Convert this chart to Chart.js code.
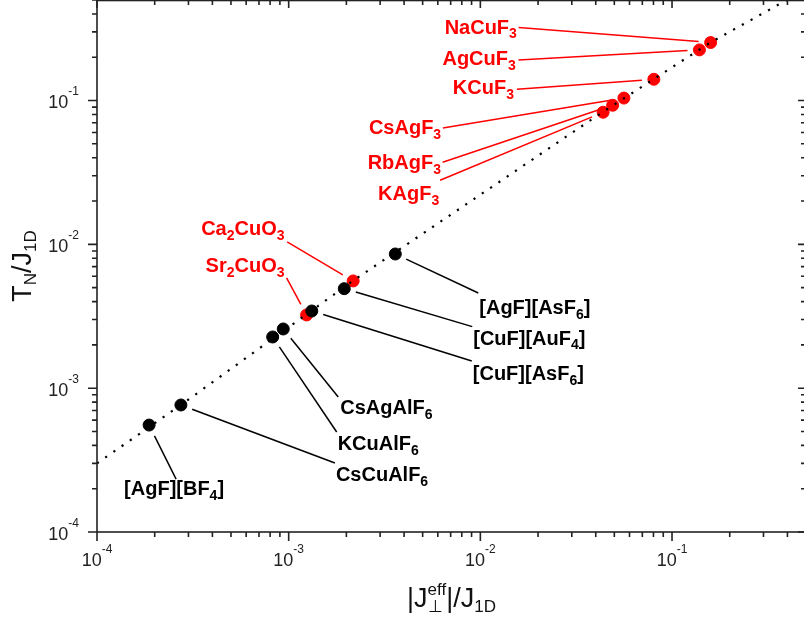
<!DOCTYPE html>
<html>
<head>
<meta charset="utf-8">
<script src="https://cdn.jsdelivr.net/npm/chart.js@4.4.1/dist/chart.umd.min.js"></script>
<style>
  html, body { margin: 0; padding: 0; background: #fff; overflow: hidden; }
  #wrap { width: 812px; height: 625px; }
</style>
</head>
<body>
<div id="wrap"><canvas id="chart" width="812" height="625"></canvas></div>
<script>
'use strict'

/* global Chart */

// red: perovskites and chain cuprates
const redNames = ['NaCuF_3', 'AgCuF_3', 'KCuF_3', 'CsAgF_3', 'RbAgF_3', 'KAgF_3', 'Ca_2CuO_3', 'Sr_2CuO_3']
const redJperp = [0.159, 0.139, 0.0804, 0.0561, 0.049, 0.0437, 0.00217, 0.00124]
const redTN = [0.253, 0.225, 0.1405, 0.104, 0.0927, 0.0829, 0.00557, 0.00323]

// black: fluoroargentates / fluorocuprates
const blackNames = ['[AgF][AsF_6]', '[CuF][AuF_4]', '[CuF][AsF_6]', 'CsAgAlF_6', 'KCuAlF_6', 'CsCuAlF_6', '[AgF][BF_4]']
const blackJperp = [0.0036, 0.00195, 0.00132, 0.000937, 0.000825, 0.000274, 0.000187]
const blackTN = [0.00857, 0.00492, 0.00344, 0.00258, 0.00227, 0.000764, 0.000554]

// dotted theory curve
const curveJperp = [0.0001, 0.000274, 0.00216, 0.0436, 0.159, 0.397, 0.5]
const curveTN = [0.0003, 0.000764, 0.00557, 0.0834, 0.2535, 0.5, 0.6]

const tickExps = [-4, -3, -2, -1]

// label layout, px from the point: [text left, text middle, leader x, leader y]
const redLabelPos = [
  [-266, -16, -192, -15],
  [-257, 8, -181, 10],
  [-201, 8, -137, 10],
  [-255, 29, -181, 30],
  [-245, 57, -170, 57],
  [-225, 81, -163, 68],
  [-152, -53, -66, -39],
  [-101, -50, -20, -37]
]
const blackLabelPos = [
  [84, 53, 83, 39],
  [129, 49, 128, 38],
  [161, 62, 160, 50],
  [57, 78, 55, 68],
  [65, 106, 64, 95],
  [155, 69, 154, 58],
  [-25, 63, 27, 54]
]

const FONT = '"Liberation Sans", Arial, sans-serif'
const RED = '#ff0000'
const AXIS = '#222'

function fontOf (r) {
  return (r.bold ? 'bold ' : '') + r.size + 'px ' + FONT
}

function drawRuns (ctx, runs, x, y, align) {
  let pos = 0
  let held = 0
  const placed = []
  for (const r of runs) {
    ctx.font = fontOf(r)
    const w = ctx.measureText(r.t).width
    placed.push(pos)
    if (r.hold) {
      held = w
    } else {
      pos += Math.max(w, held)
      held = 0
    }
  }
  const x0 = align === 'center' ? x - pos / 2 : (align === 'right' ? x - pos : x)
  ctx.textAlign = 'left'
  ctx.textBaseline = 'alphabetic'
  runs.forEach((r, i) => {
    ctx.font = fontOf(r)
    ctx.fillText(r.t, x0 + placed[i], y + (r.dy || 0))
  })
}

function labelRuns (name) {
  const runs = []
  name.split(/(_\d)/).forEach(part => {
    if (!part) return
    if (part[0] === '_') runs.push({ t: part.slice(1), size: 14, bold: true, dy: 4.5 })
    else runs.push({ t: part, size: 20, bold: true })
  })
  return runs
}

function powRuns (e) {
  return [{ t: '10', size: 18 }, { t: String(e), size: 12, dy: -13 }]
}

function drawLabels (chart, names, xs, ys, layout, color) {
  const { ctx, scales: { x, y } } = chart
  ctx.save()
  ctx.strokeStyle = color
  ctx.fillStyle = color
  ctx.lineWidth = 1.5
  names.forEach((name, i) => {
    const px = x.getPixelForValue(xs[i])
    const py = y.getPixelForValue(ys[i])
    const [tx, ty, lx, ly] = layout[i]
    const sx = px + lx
    const sy = py + ly
    const d = Math.hypot(sx - px, sy - py)
    const gap = 12
    ctx.beginPath()
    ctx.moveTo(sx, sy)
    ctx.lineTo(px + (sx - px) * gap / d, py + (sy - py) * gap / d)
    ctx.stroke()
    drawRuns(ctx, labelRuns(name), px + tx, py + ty + 7.2, 'left')
  })
  ctx.restore()
}

function drawAxes (chart) {
  const { ctx, chartArea: a, scales: { x, y } } = chart
  ctx.save()
  ctx.strokeStyle = AXIS
  ctx.fillStyle = AXIS
  ctx.lineWidth = 1.6
  ctx.strokeRect(a.left, a.top + 0.5, a.right - a.left, a.bottom - a.top - 0.5)

  ctx.beginPath()
  tickExps.forEach(e => {
    for (let m = 1; m <= 9; m++) {
      const v = m * Math.pow(10, e)
      const major = m === 1
      if (v <= x.max) {
        const px = x.getPixelForValue(v)
        ctx.moveTo(px, a.bottom)
        ctx.lineTo(px, a.bottom + (major ? 9 : 5))
        ctx.moveTo(px, a.top)
        ctx.lineTo(px, a.top + (major ? 8 : 5))
      }
      if (v <= y.max) {
        const py = y.getPixelForValue(v)
        ctx.moveTo(a.left, py)
        ctx.lineTo(a.left - (major ? 9 : 5), py)
        ctx.moveTo(a.right, py)
        ctx.lineTo(a.right - (major ? 8 : 5), py)
      }
    }
  })
  ctx.stroke()

  tickExps.forEach(e => {
    const v = Math.pow(10, e)
    drawRuns(ctx, powRuns(e), x.getPixelForValue(v), a.bottom + 33.5, 'center')
    drawRuns(ctx, powRuns(e), a.left - 18, y.getPixelForValue(v) + 7.7, 'right')
  })

  // axis titles
  ctx.fillStyle = '#111'
  drawRuns(ctx, [
    { t: '|J', size: 27 },
    { t: '\u22A5', size: 17, dy: 5, hold: true },
    { t: 'eff', size: 17, dy: -12 },
    { t: '|/J', size: 27 },
    { t: '1D', size: 17, dy: 5 }
  ], (a.left + a.right) / 2, 606.5, 'center')

  ctx.translate(31, (a.top + a.bottom) / 2)
  ctx.rotate(-Math.PI / 2)
  drawRuns(ctx, [
    { t: 'T', size: 27 },
    { t: 'N', size: 17, dy: 5 },
    { t: '/J', size: 27 },
    { t: '1D', size: 17, dy: 5 }
  ], 0, 0, 'center')
  ctx.restore()
}

const overlay = {
  id: 'overlay',
  afterDraw (chart) {
    drawLabels(chart, redNames, redJperp, redTN, redLabelPos, RED)
    drawLabels(chart, blackNames, blackJperp, blackTN, blackLabelPos, '#000')
    drawAxes(chart)
  }
}

const toPoints = (xs, ys) => xs.map((v, i) => ({ x: v, y: ys[i] }))

const chart = new Chart(document.getElementById('chart'), {
  type: 'scatter',
  data: {
    datasets: [{
      type: 'line',
      data: toPoints(curveJperp, curveTN),
      borderColor: '#000',
      borderWidth: 2.2,
      borderDash: [2.2, 7.8],
      pointRadius: 0,
      fill: false,
      order: 0
    }, {
      data: toPoints(blackJperp, blackTN),
      backgroundColor: '#000',
      borderColor: '#000',
      pointRadius: 6,
      order: 1
    }, {
      data: toPoints(redJperp, redTN),
      backgroundColor: RED,
      borderColor: RED,
      pointRadius: 6,
      order: 2
    }]
  },
  options: {
    responsive: false,
    animation: false,
    devicePixelRatio: 1,
    layout: { autoPadding: false, padding: { left: 97, right: 6, top: 0, bottom: 93 } },
    plugins: {
      legend: { display: false },
      tooltip: { enabled: false }
    },
    scales: {
      x: { type: 'logarithmic', min: 1e-4, max: 0.5, display: false },
      y: { type: 'logarithmic', min: 1e-4, max: 0.5, display: false }
    }
  },
  plugins: [overlay]
})
</script>
</body>
</html>
